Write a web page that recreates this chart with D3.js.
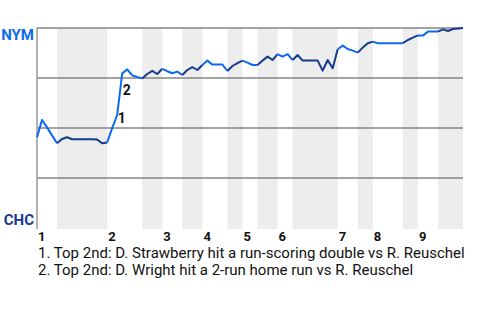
<!DOCTYPE html>
<html>
<head>
<meta charset="utf-8">
<title>Win probability</title>
<style>
  body { margin: 0; padding: 0; background: #fff; }
  text { font-family: Roboto, "Liberation Sans", sans-serif; }
</style>
</head>
<body>
<div id="chart"></div>
<script src="https://d3js.org/d3.v7.min.js"></script>
<script>
// teams: away on top, home at the bottom
var teams = ["NYM", "CHC"];
var innings = ["1", "2", "3", "4", "5", "6", "7", "8", "9"];
// number of plays in each half inning (top 1st, bottom 1st, top 2nd ...)
var halfInningEvents = [4, 10, 7, 4, 4, 4, 5, 3, 3, 4, 3, 9, 4, 3, 6, 3, 4, 5];
// NYM win probability (%) after each play
var winProb = [
  45.3, 54, 50.3, 46.3, 42.4, 44.5, 45.4, 44.4, 44.4, 44.4,
  44.4, 44.4, 44.2, 42.4, 42.8, 49.9, 56.5, 77.3, 79.3, 76.3,
  75.5, 74.8, 77, 78.6, 77, 79.6, 78.4, 77.4, 78.2, 76.5,
  79, 80.4, 79, 81.5, 83.7, 81.7, 81.7, 81.7, 78.5, 81,
  82.4, 83.7, 82.7, 81.5, 81.5, 83.7, 85.7, 84, 86.9, 85.7,
  86.9, 84, 86.5, 83.7, 83.7, 83.7, 83.7, 78.7, 84, 79.9,
  89.4, 91.2, 89.5, 88.7, 87.7, 90.2, 92.4, 93.2, 92.4, 92.4,
  92.4, 92.4, 92.4, 92.4, 94, 95.2, 96.3, 96.2, 98.2, 98.2,
  98.2, 99.3, 98.5, 99.5, 99.8, 100
];
// key plays: index of the play in winProb
var keyPlays = [16, 17];
var keyPlayNotes = [
  "1. Top 2nd: D. Strawberry hit a run-scoring double vs R. Reuschel",
  "2. Top 2nd: D. Wright hit a 2-run home run vs R. Reuschel"
];

var width = 480, height = 320;
var colTop = "#0a6af0", colBottom = "#163a8c";

var svg = d3.select("#chart").append("svg")
    .attr("width", width)
    .attr("height", height);

var x = d3.scaleLinear().domain([0, winProb.length - 1]).range([37, 463]);
var y = d3.scaleLinear().domain([0, 100]).range([228, 28]);

// half inning boundaries
var starts = [0];
halfInningEvents.forEach(function(n, i) { starts.push(starts[i] + n); });

// shaded bands for the bottom halves
svg.append("g").selectAll("rect")
  .data(halfInningEvents)
  .enter().append("rect")
    .attr("x", function(d, i) { return x(starts[i]); })
    .attr("y", y(100))
    .attr("width", function(d, i) { return x(starts[i + 1]) - x(starts[i]); })
    .attr("height", y(0) - y(100) + 1)
    .attr("fill", function(d, i) { return i % 2 ? "#ededed" : "none"; });

// grid lines
svg.append("g").selectAll("line")
  .data([25, 50, 75, 100])
  .enter().append("line")
    .attr("x1", x(0)).attr("x2", x(winProb.length - 1))
    .attr("y1", function(d) { return y(d); })
    .attr("y2", function(d) { return y(d); })
    .attr("stroke", "#858585")
    .attr("stroke-width", 1.5);

svg.append("line")
    .attr("x1", x(0)).attr("x2", x(0))
    .attr("y1", y(100) - 0.5).attr("y2", y(0) + 1)
    .attr("stroke", "#999")
    .attr("stroke-width", 1.5);

// win probability line, coloured by half inning
var line = d3.line()
    .x(function(d) { return x(d.i); })
    .y(function(d) { return y(d.p); });

var pts = winProb.map(function(p, i) { return { i: i, p: p }; });

svg.append("g").selectAll("path")
  .data(halfInningEvents)
  .enter().append("path")
    .attr("d", function(d, i) { return line(pts.slice(starts[i], starts[i + 1] + 1)); })
    .attr("fill", "none")
    .attr("stroke", function(d, i) { return i % 2 ? colBottom : colTop; })
    .attr("stroke-width", 2)
    .attr("stroke-linejoin", "round");

// key play markers
svg.append("g").selectAll("text")
  .data(keyPlays)
  .enter().append("text")
    .attr("x", function(d) { return (x(d - 1) + x(d)) / 2 + 3; })
    .attr("y", function(d) { return (y(winProb[d - 1]) + y(winProb[d])) / 2 + 1; })
    .attr("font-size", 14)
    .attr("font-weight", "bold")
    .attr("fill", "#111")
    .text(function(d, i) { return i + 1; });

// team labels
svg.append("text")
    .attr("x", 34).attr("y", y(100) + 11.5)
    .attr("text-anchor", "end")
    .attr("font-size", 15).attr("font-weight", "bold")
    .attr("fill", colTop)
    .text(teams[0]);

svg.append("text")
    .attr("x", 34).attr("y", y(0) - 3.5)
    .attr("text-anchor", "end")
    .attr("font-size", 15).attr("font-weight", "bold")
    .attr("fill", colBottom)
    .text(teams[1]);

// inning labels at the start of each top half
svg.append("g").selectAll("text")
  .data(innings)
  .enter().append("text")
    .attr("x", function(d, i) { return x(starts[i * 2]) + 1; })
    .attr("y", 241)
    .attr("font-size", 13)
    .attr("font-weight", "bold")
    .attr("fill", "#111")
    .text(function(d) { return d; });

// notes
svg.append("g").selectAll("text")
  .data(keyPlayNotes)
  .enter().append("text")
    .attr("x", 38)
    .attr("y", function(d, i) { return 257.5 + i * 17.3; })
    .attr("font-size", 15)
    .attr("fill", "#111")
    .text(function(d) { return d; });
</script>
</body>
</html>
